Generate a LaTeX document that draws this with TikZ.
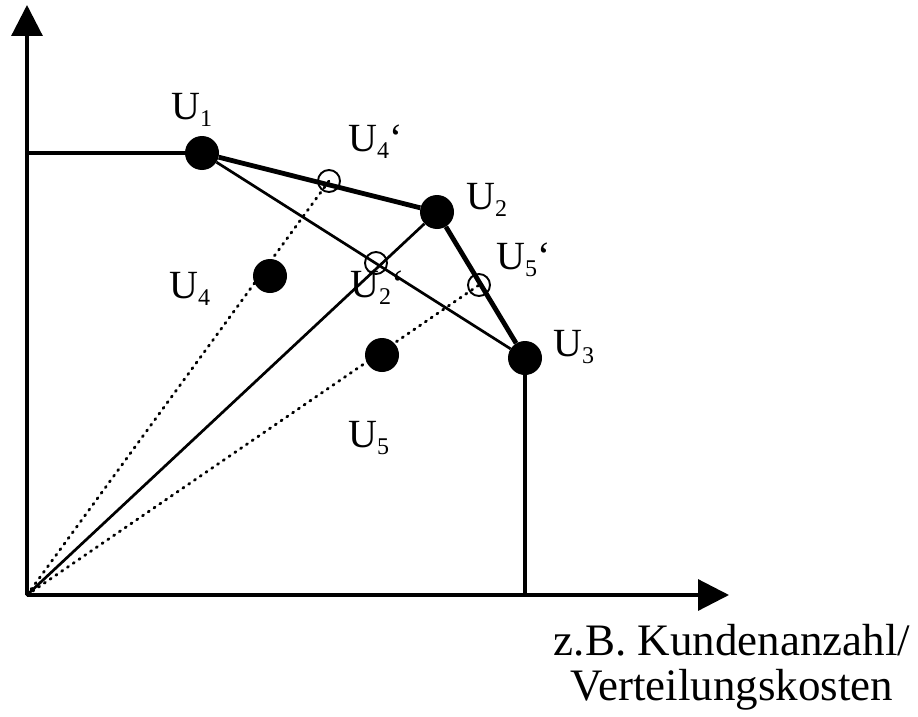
\documentclass[tikz,border=0pt]{standalone}
\usepackage{fontspec}
\setmainfont{Liberation Serif}
\usetikzlibrary{arrows.meta}
\newcommand{\Ulab}[2]{U\raisebox{-0.19em}{\fontsize{24}{24}\selectfont #1}#2}
\begin{document}
\begin{tikzpicture}[x=1pt, y=-1pt,
  axis/.style={black, line width=3.2pt, -{Triangle[length=31pt, width=31pt]}},
  thickline/.style={black, line width=4.8pt},
  thinline/.style={black, line width=2.7pt},
  dotline/.style={black, line width=2.8pt, line cap=round, dash pattern=on 1.3pt off 5.7pt},
  dot/.style={circle, fill=black, inner sep=0pt, minimum size=34pt},
  ring/.style={circle, draw=black, line width=1.9pt, inner sep=0pt, minimum size=22pt},
  lab/.style={anchor=base west, inner sep=0pt, font=\fontsize{40}{40}\selectfont}]
  \useasboundingbox (0,0) rectangle (918,717);
  \coordinate (O) at (27,595);
  \coordinate (L) at (27,153);
  \coordinate (B) at (525,595);
  \coordinate (yend) at (27,5);
  \coordinate (xend) at (729,595);
  \node[ring] (U4p) at (329,181) {};
  \node[ring] (U2p) at (376,263) {};
  \node[ring] (U5p) at (479,285) {};
  \draw[dotline] (O) -- (U4p.center);
  \draw[dotline] (O) -- (U5p.center);
  \node[dot] (U1) at (202,153) {};
  \node[dot] (U2) at (437,212) {};
  \node[dot] (U3) at (525,358) {};
  \node[dot] (U4) at (270,276) {};
  \node[dot] (U5) at (382,355) {};
  \draw[axis] (O) -- (yend);
  \draw[axis] (O) -- (xend);
  \draw[thickline] (L) -- (U1);
  \draw[thickline] (U1) -- (U2);
  \draw[thickline] (U2) -- (U3);
  \draw[thickline] (U3) -- (B);
  \draw[thinline] (U1) -- (U3);
  \draw[thinline] (O) -- (U2);
  \node[lab] (tU1) at (171,119) {\Ulab{1}{}};
  \node[lab] (tU4p) at (348,151) {\Ulab{4}{‘}};
  \node[lab] (tU2) at (466,209) {\Ulab{2}{}};
  \node[lab] (tU5p) at (496,269) {\Ulab{5}{‘}};
  \node[lab] (tU2p) at (350,297) {\Ulab{2}{‘}};
  \node[lab] (tU4) at (169,298) {\Ulab{4}{}};
  \node[lab] (tU3) at (553,356) {\Ulab{3}{}};
  \node[lab] (tU5) at (348,447) {\Ulab{5}{}};
  \node[anchor=base, inner sep=0pt, align=center, font=\fontsize{45}{45}\selectfont]
    (xlab) at (732,700) {z.B. Kundenanzahl/\\Verteilungskosten};
\end{tikzpicture}
\end{document}
